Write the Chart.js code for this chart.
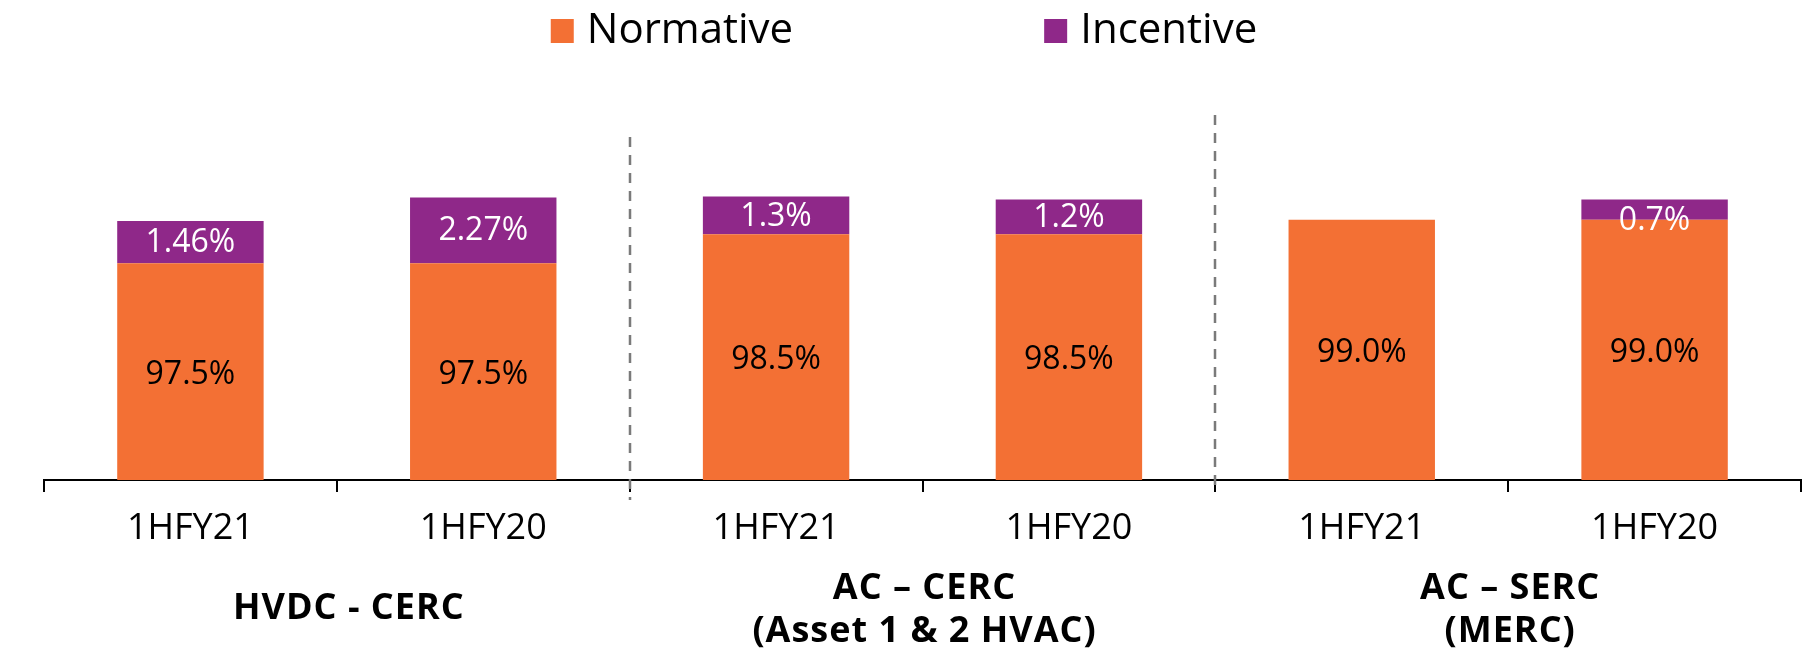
<!DOCTYPE html>
<html>
<head>
<meta charset="utf-8">
<script src="https://cdn.jsdelivr.net/npm/chart.js@4.4.1/dist/chart.umd.min.js"></script>
<style>
  html, body { margin: 0; padding: 0; background: #ffffff; }
  #wrap { width: 1808px; height: 654px; position: relative; }
</style>
</head>
<body>
<div id="wrap"><canvas id="availability"></canvas></div>
<script>
// Period labels under each bar
const categories = ['1HFY21', '1HFY20', '1HFY21', '1HFY20', '1HFY21', '1HFY20'];
// Regulator groups, two periods each
const groupLabels = [
  ['HVDC - CERC'],
  ['AC – CERC', '(Asset 1 & 2 HVAC)'],
  ['AC – SERC', '(MERC)']
];
// Availability (%) split into normative level and incentive above it
const normative = [97.5, 97.5, 98.5, 98.5, 99.0, 99.0];
const incentive = [1.46, 2.27, 1.3, 1.2, null, 0.7];
const seriesNames = ['Normative', 'Incentive'];

const FONT = "'Open Sans', 'Noto Sans', sans-serif";
const COLORS = ['#F37034', '#8F2889'];
const LABEL_COLORS = ['#000000', '#FFFFFF'];

// Draws the value inside each stacked segment
const segmentLabels = {
  id: 'segmentLabels',
  afterDatasetsDraw(chart) {
    const ctx = chart.ctx;
    const area = chart.chartArea;
    ctx.save();
    ctx.font = '32px ' + FONT;
    ctx.textAlign = 'center';
    ctx.textBaseline = 'middle';
    chart.data.datasets.forEach((ds, di) => {
      const meta = chart.getDatasetMeta(di);
      meta.data.forEach((bar, i) => {
        const v = ds.data[i];
        if (v === null || v === undefined || v === 0) return;
        const text = (di === 0 ? v.toFixed(1) : String(v)) + '%';
        // the visible part of the segment stops at the plot floor
        const top = bar.y;
        const base = Math.min(bar.base, area.bottom);
        const h = Math.abs(base - top);
        const cy = h < 28 ? base : (top + base) / 2;
        ctx.fillStyle = LABEL_COLORS[di];
        ctx.fillText(text, bar.x, cy + (di === 0 ? 3 : 1));
      });
    });
    ctx.restore();
  }
};

// Legend row across the top
const topLegend = {
  id: 'topLegend',
  afterDraw(chart) {
    const ctx = chart.ctx;
    ctx.save();
    ctx.font = '42px ' + FONT;
    ctx.textBaseline = 'alphabetic';
    const box = 23, boxGap = 13, itemGap = 251;
    const items = chart.data.datasets.map(ds => ({
      label: ds.label, color: ds.backgroundColor,
      w: box + boxGap + ctx.measureText(ds.label).width
    }));
    const total = items.reduce((s, it) => s + it.w, 0) + itemGap * (items.length - 1);
    let x = chart.width / 2 - total / 2;
    items.forEach(it => {
      ctx.fillStyle = it.color;
      ctx.fillRect(x, 19, box, 24);
      ctx.fillStyle = '#000000';
      ctx.fillText(it.label, x + box + boxGap, 43);
      x += it.w + itemGap;
    });
    ctx.restore();
  }
};

// Dashed dividers between regulator groups and the group captions
const groups = {
  id: 'groups',
  afterDraw(chart) {
    const ctx = chart.ctx;
    const xs = chart.scales.x;
    ctx.save();
    // dividers
    const dividerTop = [137, 115];
    const dividerBottom = [500, 492];
    ctx.strokeStyle = '#7A7A7A';
    ctx.lineWidth = 2.5;
    ctx.setLineDash([10, 8]);
    for (let g = 0; g < groupLabels.length - 1; g++) {
      const bx = Math.round((xs.getPixelForValue(2 * g + 1) + xs.getPixelForValue(2 * g + 2)) / 2);
      ctx.beginPath();
      ctx.moveTo(bx, dividerTop[g]);
      ctx.lineTo(bx, dividerBottom[g]);
      ctx.stroke();
    }
    ctx.setLineDash([]);
    // captions
    ctx.font = 'bold 36px ' + FONT;
    if ('letterSpacing' in ctx) ctx.letterSpacing = '1px';
    ctx.fillStyle = '#000000';
    ctx.textAlign = 'center';
    ctx.textBaseline = 'middle';
    groupLabels.forEach((lines, g) => {
      const cx = (xs.getPixelForValue(2 * g) + xs.getPixelForValue(2 * g + 1)) / 2;
      const lineH = 43;
      const mid = lines.length === 1 ? 609 : 610;
      const y0 = mid - (lines.length - 1) * lineH / 2;
      lines.forEach((t, k) => ctx.fillText(t, cx + (g === 0 ? 12 : 2), y0 + k * lineH));
    });
    ctx.restore();
  }
};

new Chart(document.getElementById('availability'), {
  type: 'bar',
  data: {
    labels: categories,
    datasets: [
      { label: seriesNames[0], data: normative, backgroundColor: COLORS[0], borderWidth: 0,
        barPercentage: 0.5, categoryPercentage: 1.0 },
      { label: seriesNames[1], data: incentive, backgroundColor: COLORS[1], borderWidth: 0,
        barPercentage: 0.5, categoryPercentage: 1.0 }
    ]
  },
  options: {
    responsive: true,
    maintainAspectRatio: false,
    animation: false,
    layout: { padding: { left: 44, right: 7, top: 133, bottom: 0 } },
    plugins: {
      legend: { display: false },
      tooltip: { enabled: false }
    },
    scales: {
      x: {
        stacked: true,
        offset: true,
        grid: {
          display: true, offset: true, drawOnChartArea: false, drawTicks: true,
          tickLength: 12, color: '#000000', lineWidth: 2
        },
        border: { display: true, color: '#000000', width: 2 },
        ticks: { color: '#000000', padding: 15, font: { family: FONT, size: 36 }, maxRotation: 0 },
        afterFit(scale) { scale.height = 174; }
      },
      y: {
        stacked: true,
        display: false,
        min: 90,
        max: 102
      }
    }
  },
  plugins: [segmentLabels, topLegend, groups]
});
</script>
</body>
</html>
